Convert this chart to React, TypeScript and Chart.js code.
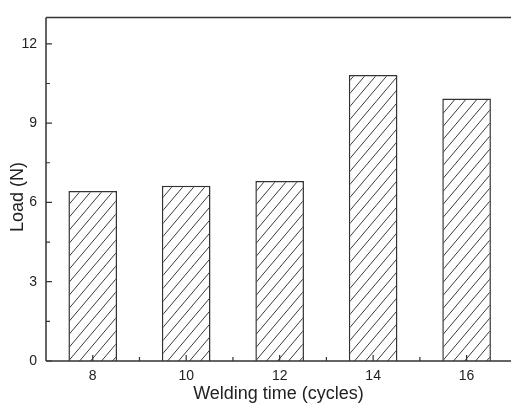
import React, { useEffect, useRef } from "react";
import { Chart, registerables } from "chart.js";

Chart.register(...registerables);

const weldingTimes = [8, 10, 12, 14, 16];
const loads = [6.43, 6.63, 6.81, 10.82, 9.93];
const xTickValues = [8, 10, 12, 14, 16];
const xMinorTicks = [9, 11, 13, 15];
const yTickValues = [0, 3, 6, 9, 12];
const yMinorTicks = [1.5, 4.5, 7.5, 10.5];
const xTitle = "Welding time (cycles)";
const yTitle = "Load (N)";

const FONT = "'Liberation Sans', Arial, sans-serif";

function makeHatch(): CanvasPattern | string {
  const w = 11;
  const h = 13;
  const c = document.createElement("canvas");
  c.width = w;
  c.height = h;
  const g = c.getContext("2d");
  if (!g) return "#fff";
  g.fillStyle = "#ffffff";
  g.fillRect(0, 0, w, h);
  g.strokeStyle = "#3a3a3a";
  g.lineWidth = 1;
  g.beginPath();
  g.moveTo(-w, 2 * h);
  g.lineTo(2 * w, -h);
  g.moveTo(-2 * w, 2 * h);
  g.lineTo(w, -h);
  g.moveTo(0, 2 * h);
  g.lineTo(3 * w, -h);
  g.stroke();
  const p = g.createPattern(c, "repeat");
  return p || "#fff";
}

const axesPlugin = {
  id: "axesFrame",
  afterDatasetsDraw(chart: any) {
    const { ctx, chartArea, scales } = chart;
    const xs = scales.x;
    const ys = scales.y;
    const { left, right, top, bottom } = chartArea;
    ctx.save();
    ctx.strokeStyle = "#333";
    ctx.lineWidth = 1.5;
    ctx.beginPath();
    ctx.moveTo(left, top);
    ctx.lineTo(right + 2, top);
    ctx.moveTo(left, top);
    ctx.lineTo(left, bottom);
    ctx.moveTo(left, bottom);
    ctx.lineTo(right + 2, bottom);
    ctx.stroke();
    ctx.lineWidth = 1.2;
    ctx.beginPath();
    yTickValues.forEach((v) => {
      const p = ys.getPixelForValue(v);
      ctx.moveTo(left, p);
      ctx.lineTo(left + 6, p);
    });
    yMinorTicks.forEach((v) => {
      const p = ys.getPixelForValue(v);
      ctx.moveTo(left, p);
      ctx.lineTo(left + 4, p);
    });
    xTickValues.forEach((v) => {
      const p = xs.getPixelForValue(v);
      ctx.moveTo(p, bottom);
      ctx.lineTo(p, bottom - 6);
    });
    xMinorTicks.forEach((v) => {
      const p = xs.getPixelForValue(v);
      ctx.moveTo(p, bottom);
      ctx.lineTo(p, bottom - 4);
    });
    ctx.stroke();
    // y title
    ctx.fillStyle = "#222";
    ctx.font = `18px ${FONT}`;
    ctx.textAlign = "center";
    ctx.textBaseline = "middle";
    ctx.translate(18, 197);
    ctx.rotate(-Math.PI / 2);
    ctx.fillText(yTitle, 0, 0);
    ctx.restore();
  },
};

export default function App() {
  const ref = useRef<HTMLCanvasElement | null>(null);
  useEffect(() => {
    if (!ref.current) return;
    const hatch = makeHatch();
    const chart = new Chart(ref.current, {
      type: "bar",
      data: {
        datasets: [
          {
            data: weldingTimes.map((x, i) => ({ x, y: loads[i] })),
            backgroundColor: hatch as any,
            borderColor: "#333",
            borderWidth: 1.5,
            borderSkipped: "bottom",
            categoryPercentage: 1,
            barPercentage: 0.52,
          },
        ],
      },
      options: {
        responsive: false,
        animation: false,
        events: [],
        layout: { padding: { top: 6, left: 0, right: 0, bottom: 0 } },
        plugins: { legend: { display: false }, tooltip: { enabled: false } },
        scales: {
          x: {
            type: "linear",
            min: 7,
            max: 16.95,
            offset: false,
            grid: { display: false, drawTicks: false },
            border: { display: false },
            afterBuildTicks: (s: any) => {
              s.ticks = xTickValues.map((v) => ({ value: v }));
            },
            afterFit: (s: any) => {
              s.height = 46;
            },
            ticks: {
              autoSkip: false,
              maxRotation: 0,
              padding: 7,
              color: "#222",
              font: { family: FONT, size: 14 },
              callback: (v: any) => String(v),
            },
            title: {
              display: true,
              text: xTitle,
              color: "#222",
              font: { family: FONT, size: 18 },
              padding: { top: 0, bottom: 2 },
            },
          },
          y: {
            type: "linear",
            min: 0,
            max: 13,
            grid: { display: false, drawTicks: false },
            border: { display: false },
            afterBuildTicks: (s: any) => {
              s.ticks = yTickValues.map((v) => ({ value: v }));
            },
            afterFit: (s: any) => {
              s.width = 46;
            },
            ticks: {
              padding: 9,
              color: "#222",
              font: { family: FONT, size: 14 },
              callback: (v: any) => String(v),
            },
          },
        },
      },
      plugins: [axesPlugin],
    });
    return () => chart.destroy();
  }, []);
  return (
    <div style={{ position: "absolute", left: 0, top: 0, width: 511, height: 407, background: "#fff" }}>
      <canvas ref={ref} width={511} height={407} style={{ display: "block" }} />
    </div>
  );
}
